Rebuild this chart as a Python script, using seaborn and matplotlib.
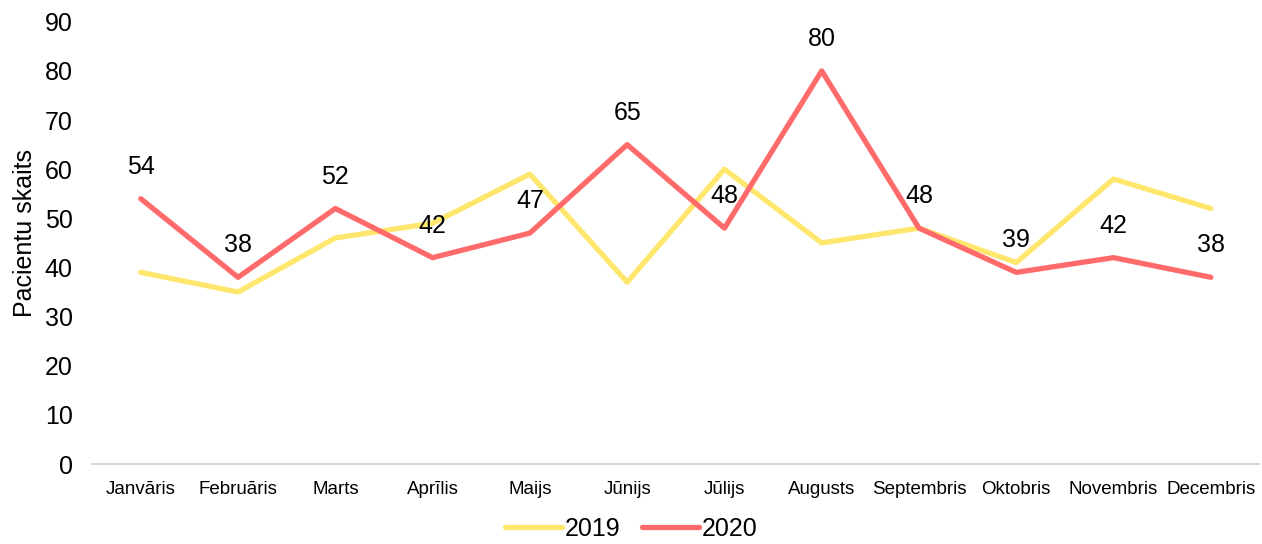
#monthly patient counts, 2019 vs 2020, line chart with data labels on the 2020 line
import pandas as pd
import matplotlib
matplotlib.use("Agg")
import matplotlib.pyplot as plt
import seaborn as sns

months = ["Janvāris", "Februāris", "Marts", "Aprīlis", "Maijs", "Jūnijs",
          "Jūlijs", "Augusts", "Septembris", "Oktobris", "Novembris", "Decembris"]
vals_2019 = [39, 35, 46, 49, 59, 37, 60, 45, 48, 41, 58, 52]
vals_2020 = [54, 38, 52, 42, 47, 65, 48, 80, 48, 39, 42, 38]
years = ["2019", "2020"]
colors = {"2019": "#FFE66D", "2020": "#FF6B6B"}

df = pd.DataFrame({
    "month": months * 2,
    "count": vals_2019 + vals_2020,
    "year": [years[0]] * len(months) + [years[1]] * len(months),
})

sns.set_style("white")
plt.rcParams["font.family"] = ["Liberation Sans", "DejaVu Sans"]
plt.rcParams["text.color"] = "black"
plt.rcParams["axes.labelcolor"] = "black"
plt.rcParams["xtick.color"] = "black"
plt.rcParams["ytick.color"] = "black"

fig = plt.figure(figsize=(12.62, 5.44), dpi=100)
ax = fig.add_axes([0.073, 0.147, 0.925, 0.813])

sns.lineplot(data=df, x="month", y="count", hue="year", palette=colors,
             linewidth=3.8, sort=False, ax=ax, legend=False)

#data labels for 2020 only
for i, v in enumerate(vals_2020):
    ax.annotate(str(v), (i, v), xytext=(0, 23), textcoords="offset points",
                ha="center", va="center", fontsize=18, color="black")

ax.set_xlim(-0.5, len(months) - 0.5)
ax.set_ylim(0, 90)
ax.set_yticks(range(0, 91, 10))
ax.set_xlabel("")
ax.set_ylabel("Pacientu skaits", fontsize=18)
ax.yaxis.set_label_coords(-0.047, 0.523)
ax.tick_params(axis="y", labelsize=18, length=0, pad=14)
ax.tick_params(axis="x", labelsize=13.5, length=0, pad=12)

for side in ["top", "right", "left"]:
    ax.spines[side].set_visible(False)
ax.spines["bottom"].set_color("#D9D9D9")
ax.spines["bottom"].set_linewidth(1.5)

handles = [plt.Line2D([0], [0], color=colors[y], linewidth=3.8, solid_capstyle="round") for y in years]
fig.legend(handles, years, loc="lower center", ncol=2, frameon=False,
           fontsize=18, bbox_to_anchor=(0.5, -0.035), handlelength=2.3,
           handletextpad=0.1, columnspacing=0.85)

plt.savefig("out.png", dpi=100)
